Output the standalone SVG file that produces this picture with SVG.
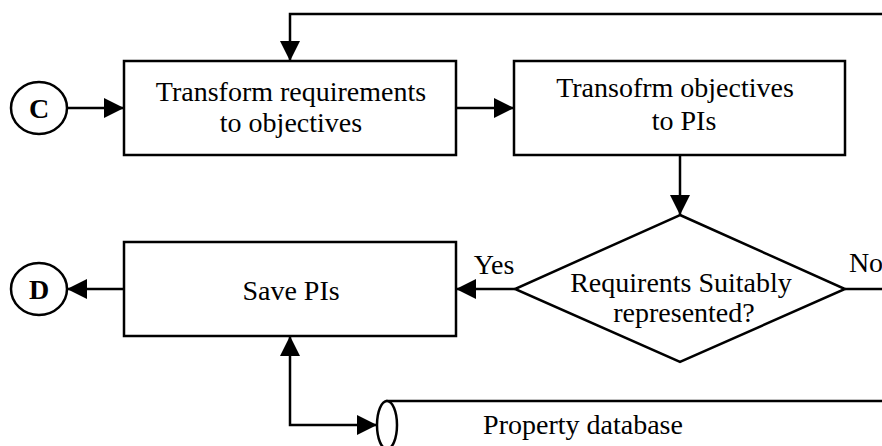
<svg xmlns="http://www.w3.org/2000/svg" width="882" height="446" viewBox="0 0 882 446">
<style>
.shape{fill:#fff;stroke:#000;stroke-width:2.5}
.conn{fill:none;stroke:#000;stroke-width:2.5}
.t{font-family:"Liberation Serif","Times New Roman",serif;font-size:28px;fill:#000;text-anchor:middle}
.b{font-weight:bold}
</style>
<defs>
<marker id="ah" viewBox="0 0 10 10" refX="10" refY="5" markerUnits="userSpaceOnUse" markerWidth="21" markerHeight="20" orient="auto-start-reverse">
<path d="M0,0 L10,5 L0,10 z" fill="#000"/>
</marker>
</defs>
<rect width="882" height="446" fill="#fff"/>
<g id="connectors">
<path class="conn" d="M67,108 H124" marker-end="url(#ah)"/>
<path class="conn" d="M456,108 H514" marker-end="url(#ah)"/>
<path class="conn" d="M680,155 V215" marker-end="url(#ah)"/>
<path class="conn" d="M882,14 H290 V61" marker-end="url(#ah)"/>
<path class="conn" d="M515,289 H456" marker-end="url(#ah)"/>
<path class="conn" d="M845,289 H882"/>
<path class="conn" d="M124,289 H67" marker-end="url(#ah)"/>
<path class="conn" d="M290,336 V425 H377" marker-start="url(#ah)" marker-end="url(#ah)"/>
<text class="t" x="494" y="274">Yes</text>
<text class="t" x="866" y="272">No</text>
</g>
<g id="nodeC">
<ellipse class="shape" cx="39" cy="108" rx="28" ry="26"/>
<text class="t b" x="39" y="118">C</text>
</g>
<g id="nodeD">
<ellipse class="shape" cx="39" cy="289" rx="28" ry="26"/>
<text class="t b" x="39" y="299">D</text>
</g>
<g id="transform1">
<rect class="shape" x="124" y="61" width="332" height="94"/>
<text class="t" x="291" y="101">Transform requirements</text>
<text class="t" x="291" y="132">to objectives</text>
</g>
<g id="transform2">
<rect class="shape" x="514" y="61" width="331" height="94"/>
<text class="t" x="675" y="97">Transofrm objectives</text>
<text class="t" x="684" y="130">to PIs</text>
</g>
<g id="decision">
<polygon class="shape" points="680,215 845,289 680,362 515,289"/>
<text class="t" x="681" y="292">Requirents Suitably</text>
<text class="t" x="684" y="322">represented?</text>
</g>
<g id="savePIs">
<rect class="shape" x="124" y="242" width="332" height="94"/>
<text class="t" x="291" y="300">Save PIs</text>
</g>
<g id="database">
<path class="shape" d="M387,401 H884 V449 H387 Z"/>
<ellipse class="shape" cx="387" cy="425" rx="10" ry="24"/>
<text class="t" x="583" y="434">Property database</text>
</g>
</svg>
